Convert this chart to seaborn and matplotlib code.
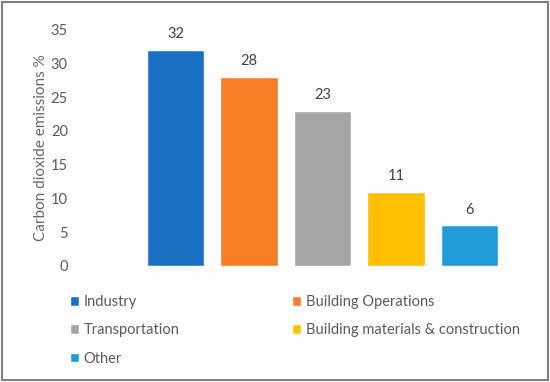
import pandas as pd
import matplotlib.pyplot as plt
import seaborn as sns
from matplotlib.patches import Patch, Rectangle

sectors = ["Industry", "Building Operations", "Transportation",
           "Building materials & construction", "Other"]
emissions = [32, 28, 23, 11, 6]
colors = ["#1a70c5", "#f97e27", "#a5a5a5", "#ffc000", "#1f9cd8"]
yticks = [0, 5, 10, 15, 20, 25, 30, 35]

df = pd.DataFrame({"sector": sectors, "value": emissions})

sns.set_theme(style="white")
plt.rcParams['font.family'] = ['Lato', 'DejaVu Sans']
txt = "#595959"

fig = plt.figure(figsize=(5.5, 3.82), dpi=100)
ax = fig.add_axes([0.136, 0.304, 0.791, 0.618])
sns.barplot(data=df, x="sector", y="value", hue="sector", palette=colors,
            width=0.78, legend=False, ax=ax, saturation=1)

for i, v in enumerate(emissions):
    ax.text(i, v + 1.3, str(v), ha="center", va="bottom", fontsize=10.5, color="#404040")

ax.set_xlim(-1.37, 4.55)
ax.set_ylim(0, 35)
ax.set_yticks(yticks)
ax.set_yticklabels([str(t) for t in yticks], color=txt, fontsize=10.5)
ax.set_xticks([])
ax.set_xlabel("")
ax.set_ylabel("Carbon dioxide emissions %", color="#666666", fontsize=11, labelpad=2)
ax.tick_params(axis="y", length=0, pad=5)
sns.despine(ax=ax, left=True, bottom=True)

# legend in row order, two columns
order = [0, 2, 4, 1, 3]
handles = [Patch(facecolor=colors[i], label=sectors[i]) for i in order]
fig.legend(handles=handles, ncol=2, loc="upper left",
           bbox_to_anchor=(0.103, 0.262), frameon=False, fontsize=10.5,
           handlelength=0.65, handleheight=0.65, handletextpad=0.3,
           columnspacing=7.7, labelspacing=0.98, labelcolor=txt)

fig.patches.append(Rectangle((0.004, 0.006), 0.992, 0.99, transform=fig.transFigure,
                             fill=False, edgecolor="#7f7f7f", linewidth=1.5))

fig.savefig("out.png", dpi=100)
